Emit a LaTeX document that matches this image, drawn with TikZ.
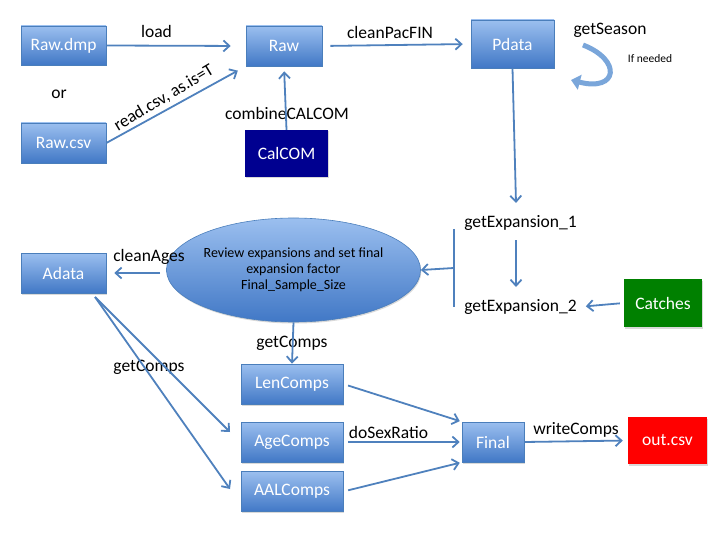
\documentclass[tikz,border=0pt]{standalone}
\usepackage{fontspec}
\setmainfont{Carlito}
\usetikzlibrary{arrows.meta,shapes.geometric,shadows,calc}
\definecolor{arrowblue}{HTML}{4F81BD}
\definecolor{boxtop}{HTML}{9BBFEF}
\definecolor{boxbot}{HTML}{4178C6}
\definecolor{boxedge}{HTML}{4A7EBB}
\definecolor{navybox}{HTML}{000090}
\definecolor{catchgreen}{HTML}{008000}
\definecolor{outred}{HTML}{FF0000}
\definecolor{seasonblue}{HTML}{7AA6DA}
\begin{document}
\begin{tikzpicture}[x=1pt,y=-1pt,
  boxfont/.style={font=\fontsize{17.5}{20}\selectfont},
  bluebox/.style={rectangle, draw=boxedge, line width=0.6pt, top color=boxtop, bottom color=boxbot,
    text=white, boxfont, inner sep=0pt,
    drop shadow={opacity=0.3,shadow xshift=0.8pt,shadow yshift=-1.5pt}},
  solidbox/.style={rectangle, fill=#1, text=white, boxfont, inner sep=0pt,
    drop shadow={opacity=0.3,shadow xshift=0.8pt,shadow yshift=-1.5pt}},
  lbl/.style={boxfont, inner sep=1pt, text=black},
  conn/.style={draw=arrowblue, line width=1.8pt, -{Straight Barb[length=6pt,width=11pt]}},
  plainline/.style={draw=arrowblue, line width=1.8pt},
]
\useasboundingbox (0,0) rectangle (720,540);

% boxes
\node[bluebox, minimum width=85pt, minimum height=39pt] (rawdmp) at (63.5,45.5) {Raw.dmp};
\node[bluebox, minimum width=85pt, minimum height=40pt] (rawcsv) at (63.5,143) {Raw.csv};
\node[bluebox, minimum width=76pt, minimum height=40pt] (raw) at (284,46) {Raw};
\node[solidbox=navybox, minimum width=83pt, minimum height=47pt] (calcom) at (286.5,153.5) {CalCOM};
\node[bluebox, minimum width=83pt, minimum height=48pt] (pdata) at (512.5,44) {Pdata};
\node[bluebox, minimum width=85pt, minimum height=40pt] (adata) at (63.5,273) {Adata};
\node[solidbox=catchgreen, minimum width=78pt, minimum height=48pt] (catches) at (663,303) {Catches};
\node[bluebox, minimum width=102pt, minimum height=40pt] (lencomps) at (292,384) {LenComps};
\node[bluebox, minimum width=102pt, minimum height=40pt] (agecomps) at (292,442) {AgeComps};
\node[bluebox, minimum width=102pt, minimum height=40pt] (aalcomps) at (292,491.5) {AALComps};
\node[bluebox, minimum width=62pt, minimum height=40pt] (final) at (493,442) {Final};
\node[solidbox=outred, minimum width=79pt, minimum height=47pt] (outcsv) at (667.5,440.5) {out.csv};

\node[ellipse, minimum width=209pt, minimum height=104pt, inner sep=0pt, draw=boxedge, line width=0.6pt,
  top color=boxtop, bottom color=boxbot, align=center, font=\fontsize{14}{16}\selectfont,
  drop shadow={opacity=0.3,shadow xshift=0.8pt,shadow yshift=-1.5pt}]
  (review) at (293.5,270) {Review expansions and set final\\expansion factor\\Final\_Sample\_Size};

% text nodes
\node[lbl] (gexp1) at (520.5,223) {getExpansion\_1};
\node[lbl] (gexp2) at (520.5,307) {getExpansion\_2};
\node[lbl] (orlbl) at (59,94) {or};
\node[lbl] (loadlbl) at (156.5,31) {load};
\node[lbl, rotate=31] (readlbl) at (164,98) {read.csv, as.is=T};
\node[lbl] (comblbl) at (287,113) {combineCALCOM};
\node[lbl] (cleanlbl) at (390,32) {cleanPacFIN};
\node[lbl] (seasonlbl) at (610,30) {getSeason};
\node[font=\fontsize{11.5}{13}\selectfont] (neededlbl) at (650,59) {If needed};
\node[lbl] (agesl) at (149,257) {cleanAges};
\node[lbl] (compsa) at (292,343) {getComps};
\node[lbl] (compsb) at (149,367) {getComps};
\node[lbl] (sexlbl) at (388.5,432) {doSexRatio};
\node[lbl] (writelbl) at (576,430) {writeComps};

% coordinates
\coordinate (adfoot) at (95,297);
\coordinate (agetip) at (230,432);
\coordinate (aaltip) at (230,489);
\coordinate (e1tip) at (516,203);
\coordinate (e1base) at (516,240);
\coordinate (e2tip) at (516,287);
\coordinate (brtop) at (454,229);
\coordinate (brbot) at (454,307);
\coordinate (brmid) at (454,268);
\coordinate (seasonstart) at (583,45);
\coordinate (seasontip) at (571,80);

% connectors
\draw[conn, shorten >=15pt] (rawdmp.east) -- (raw.west);
\draw[conn, shorten >=9pt] (rawcsv.east) -- (raw.south west);
\draw[conn, shorten >=5pt] (calcom.north) -- (raw.south);
\draw[conn, shorten <=8pt, shorten >=8pt] (raw.east) -- (pdata.west);
\draw[conn] (pdata.south) -- (e1tip);
\draw[conn] (e1base) -- (e2tip);
\draw[conn, shorten <=4pt, shorten >=8pt] (catches.west) -- (gexp2.east);
\draw[plainline] (brtop) -- (brbot);
\draw[conn] (brmid) -- (review.east);
\draw[conn, shorten <=6pt, shorten >=8pt] (review.west |- adata.east) -- (adata.east);
\draw[conn] (review.south) -- (lencomps.north);
\draw[conn] (adfoot) -- (agetip);
\draw[conn] (adfoot) -- (aaltip);
\draw[conn, shorten <=5pt, shorten >=2pt] (lencomps.east) -- (final.north west);
\draw[conn, shorten <=5pt, shorten >=2pt] (agecomps.east) -- (final.west);
\draw[conn, shorten <=5pt, shorten >=2pt] (aalcomps.east) -- (final.south west);
\draw[conn, shorten >=5pt] (final.east) -- (outcsv.west);

% getSeason curved arrow
\draw[draw=seasonblue, line width=5pt, -{Triangle[length=9pt,width=15pt]}]
  (seasonstart) .. controls (622,60) and (618,92) .. (seasontip);
\end{tikzpicture}
\end{document}
